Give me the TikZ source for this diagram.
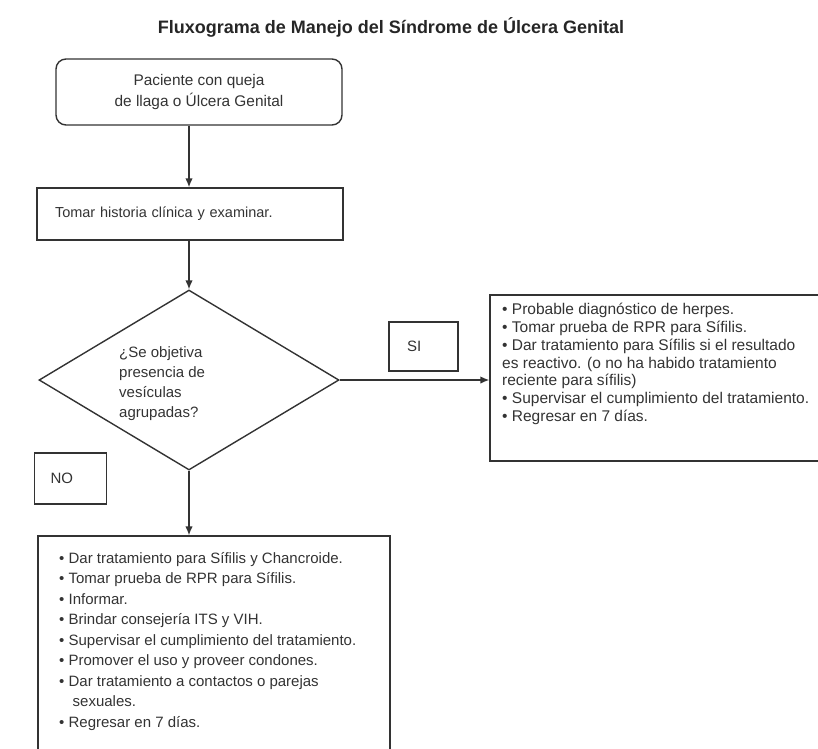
\documentclass[tikz,border=0pt]{standalone}
\usepackage{fontspec}
\setmainfont{Liberation Sans}
\usetikzlibrary{shapes.geometric,arrows.meta}
\begin{document}
\begin{tikzpicture}[x=1pt,y=-1pt,
  line/.style={draw=black!80, line width=1.4pt},
  box/.style={line, rectangle, inner sep=0pt},
  txt/.style={text=black!80, font=\fontsize{15}{17.8}\selectfont, inner sep=0pt, align=left},
  arr/.style={line, -{Latex[length=9pt,width=7.5pt]}},
]
\useasboundingbox (0,0) rectangle (818,748);
\node[text=black!85, font=\bfseries\fontsize{18}{20}\selectfont, inner sep=0pt] (title) at (391,27) {Fluxograma de Manejo del Síndrome de Úlcera Genital};
% start
\node[box, rounded corners=10pt, minimum width=286pt, minimum height=66pt, txt, align=center, font=\fontsize{15.4}{21}\selectfont] (start) at (199,92) {Paciente con queja\\de llaga o Úlcera Genital};
% history
\node[box, minimum width=306pt, minimum height=52pt, txt, font=\fontsize{14.5}{17.8}\selectfont, text width=270pt, inner xsep=18pt] (hist) at (190,214) {Tomar historia clínica y examinar.};
% diamond
\node[line, diamond, minimum width=300pt, minimum height=180pt, inner sep=0pt] (dia) at (189,380) {};
\node[txt, anchor=west, font=\fontsize{15}{20}\selectfont] (dtext) at (119,384) {¿Se objetiva\\presencia de\\vesículas\\agrupadas?};
% SI / NO
\node[box, minimum width=69pt, minimum height=49pt, txt, text width=33pt, inner xsep=18pt] (si) at (423.5,346.5) {SI};
\node[box, minimum width=67pt, minimum height=51pt, txt, text width=40pt, inner xsep=16pt] (no) at (70.5,478.5) {NO};
% right box
\node[box, minimum width=340pt, minimum height=166pt] (rbox) at (660,378) {};
\node[txt, anchor=north west, font=\fontsize{15.5}{17.8}\selectfont] (rtext) at (502,303) {• Probable diagnóstico de herpes.\\
• Tomar prueba de RPR para Sífilis.\\
• Dar tratamiento para Sífilis si el resultado\\
es reactivo. (o no ha habido tratamiento\\
reciente para sífilis)\\
• Supervisar el cumplimiento del tratamiento.\\
• Regresar en 7 días.};
% bottom box
\node[box, minimum width=352pt, minimum height=234pt] (bbox) at (214,653) {};
\node[txt, anchor=north west, font=\fontsize{15}{20.5}\selectfont] (btext) at (59,552) {• Dar tratamiento para Sífilis y Chancroide.\\
• Tomar prueba de RPR para Sífilis.\\
• Informar.\\
• Brindar consejería ITS y VIH.\\
• Supervisar el cumplimiento del tratamiento.\\
• Promover el uso y proveer condones.\\
• Dar tratamiento a contactos o parejas\\
\hspace*{0.9em}sexuales.\\
• Regresar en 7 días.};
% connectors
\draw[arr] (dia.north |- start.south) -- (dia.north |- hist.north);
\draw[arr] (dia.north |- hist.south) -- (dia.north);
\draw[arr] (dia.east) -- (dia.east -| rbox.west);
\draw[arr] (dia.south) -- (dia.south |- bbox.north);
\end{tikzpicture}
\end{document}
